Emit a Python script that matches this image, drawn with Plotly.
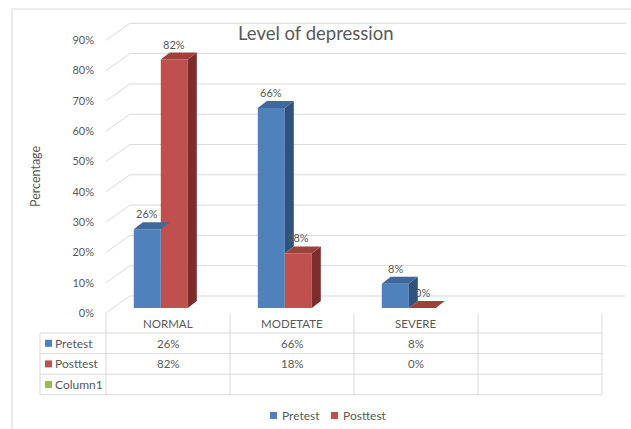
import plotly.graph_objects as go

# ---------------- data ----------------
categories = ["NORMAL", "MODETATE", "SEVERE"]
pretest = [26, 66, 8]
posttest = [82, 18, 0]
series_names = ["Pretest", "Posttest", "Column1"]
y_ticks = [0, 10, 20, 30, 40, 50, 60, 70, 80, 90]
y_tick_labels = ["0%", "10%", "20%", "30%", "40%", "50%", "60%", "70%", "80%", "90%"]
title_text = "Level of depression"
y_title = "Percentage"

# ---------------- style ----------------
FONT = "Lato"
TXT = "#595959"
GRID = "#D9D9D9"
BLUE, BLUE_TOP, BLUE_SIDE = "#4F81BD", "#41689C", "#30527F"
RED, RED_TOP, RED_SIDE = "#C0504D", "#A0403D", "#7D2E2C"
GREEN = "#9BBB59"

W, H = 631, 429
PL, PR, PT, PB = 106, 626, 20, 313          # plot area in pixels
PX_PER_CAT = 124.0
PX_PER_PCT = 3.03
X0 = -0.5
XMAX = X0 + (PR - PL) / PX_PER_CAT
YMAX = (PB - PT) / PX_PER_PCT
BAR_OFF = 5 / PX_PER_PCT                     # bar plane vs label plane
BACK_OFF = 17 / PX_PER_PCT                   # back wall vs label plane
BACK_DX = 24 / PX_PER_CAT
BW = 27 / PX_PER_CAT                          # bar width
DX = 9 / PX_PER_CAT                           # depth offset x
DY = 7 / PX_PER_PCT                           # depth offset y
BLUE_SHIFT = -0.167
RED_SHIFT = BLUE_SHIFT + BW


def px_x(px):
    return (px - PL) / (PR - PL)


def px_y(py):
    return (PB - py) / (PB - PT)


def cat_to_paper(xu):
    return (xu - X0) * PX_PER_CAT / (PR - PL)


fig = go.Figure()

idx = list(range(len(categories)))
xb = [i + BLUE_SHIFT for i in idx]
xr = [i + RED_SHIFT for i in idx]


def add_poly(xs, ys, color):
    fig.add_trace(go.Scatter(x=xs + [xs[0]], y=ys + [ys[0]], fill="toself", fillcolor=color,
                             mode="lines", line=dict(width=0, color=color), yaxis="y2",
                             showlegend=False, hoverinfo="skip"))


# Pretest / Posttest bars (front faces)
fig.add_trace(go.Bar(x=xb, y=pretest, width=BW, marker=dict(color=BLUE, line=dict(width=0)),
                     yaxis="y2", name=series_names[0], showlegend=False))
fig.add_trace(go.Bar(x=xr, y=posttest, width=BW, marker=dict(color=RED, line=dict(width=0)),
                     yaxis="y2", name=series_names[1], showlegend=False))

for c, v, rv in zip(xb, pretest, posttest):
    # side face visible only above the red neighbour
    if v > rv:
        r = c + BW / 2
        add_poly([r, r + DX, r + DX, r], [rv, rv + DY, v + DY, v], BLUE_SIDE)
    l, r = c - BW / 2, c + BW / 2
    add_poly([l, r, r + DX, l + DX], [v, v, v + DY, v + DY], BLUE_TOP)

for c, v in zip(xr, posttest):
    l, r = c - BW / 2, c + BW / 2
    if v > 0:
        add_poly([r, r + DX, r + DX, r], [0, DY, v + DY, v], RED_SIDE)
    add_poly([l, r, r + DX, l + DX], [v, v, v + DY, v + DY], RED_TOP)

shapes = []
# back wall gridlines and diagonals
for t in y_ticks:
    shapes.append(dict(type="line", xref="x", yref="y", x0=X0 + BACK_DX, x1=XMAX,
                       y0=t + BACK_OFF, y1=t + BACK_OFF, line=dict(color=GRID, width=1), layer="below"))
    shapes.append(dict(type="line", xref="x", yref="y", x0=X0, x1=X0 + BACK_DX,
                       y0=t, y1=t + BACK_OFF, line=dict(color=GRID, width=1), layer="below"))

# outer chart border
shapes.append(dict(type="rect", xref="paper", yref="paper", x0=px_x(12), x1=px_x(W + 10),
                   y0=px_y(9), y1=px_y(H + 10), line=dict(color=GRID, width=1)))

# data table
ROW_TOP, ROW_H = 333, 20.6
n_rows = 3
TBL_LEFT = 40
n_cols = len(categories) + 1
col_edges = [X0 + k for k in range(n_cols + 1)]
row_lines = [ROW_TOP + k * ROW_H for k in range(n_rows + 1)]
for yl in row_lines:
    shapes.append(dict(type="line", xref="paper", yref="paper", x0=px_x(TBL_LEFT), x1=cat_to_paper(col_edges[-1]),
                       y0=px_y(yl), y1=px_y(yl), line=dict(color=GRID, width=1)))
shapes.append(dict(type="line", xref="paper", yref="paper", x0=px_x(TBL_LEFT), x1=px_x(TBL_LEFT),
                   y0=px_y(ROW_TOP), y1=px_y(row_lines[-1]), line=dict(color=GRID, width=1)))
for ce in col_edges:
    shapes.append(dict(type="line", xref="paper", yref="paper", x0=cat_to_paper(ce), x1=cat_to_paper(ce),
                       y0=px_y(PB), y1=px_y(row_lines[-1]), line=dict(color=GRID, width=1)))

annotations = []
row_colors = [BLUE, RED, GREEN]
row_values = [pretest, posttest, [None] * len(categories)]
for k, (nm, col, vals) in enumerate(zip(series_names, row_colors, row_values)):
    yc = ROW_TOP + (k + 0.5) * ROW_H
    shapes.append(dict(type="rect", xref="paper", yref="paper", x0=px_x(45), x1=px_x(52),
                       y0=px_y(yc - 3.5), y1=px_y(yc + 3.5), line=dict(width=0), fillcolor=col))
    annotations.append(dict(xref="paper", yref="paper", x=px_x(53), y=px_y(yc), text=nm, showarrow=False,
                            xanchor="left", yanchor="middle", font=dict(family=FONT, size=12, color=TXT)))
    for i, v in enumerate(vals):
        if v is None:
            continue
        annotations.append(dict(xref="paper", yref="paper", x=cat_to_paper(i), y=px_y(yc), text=f"{v}%",
                                showarrow=False, xanchor="center", yanchor="middle",
                                font=dict(family=FONT, size=11.5, color=TXT)))
for i, c in enumerate(categories):
    annotations.append(dict(xref="paper", yref="paper", x=cat_to_paper(i), y=px_y(324), text=c,
                            showarrow=False, xanchor="center", yanchor="middle",
                            font=dict(family=FONT, size=11.5, color=TXT)))

# data labels
for xs, vals in ((xb, pretest), (xr, posttest)):
    for c, v in zip(xs, vals):
        annotations.append(dict(x=c, y=v, xref="x", yref="y2", text=f"{v}%", showarrow=False,
                                xanchor="center", yanchor="bottom", yshift=7,
                                font=dict(family=FONT, size=11, color=TXT)))

# title & axis title
annotations.append(dict(xref="paper", yref="paper", x=px_x(316), y=px_y(33), text=title_text, showarrow=False,
                        xanchor="center", yanchor="middle", font=dict(family=FONT, size=18.5, color=TXT)))
annotations.append(dict(xref="paper", yref="paper", x=px_x(36), y=px_y(176), text=y_title, showarrow=False,
                        textangle=-90, xanchor="center", yanchor="middle",
                        font=dict(family=FONT, size=12.5, color=TXT)))

# bottom legend
leg = [(series_names[0], BLUE, 270), (series_names[1], RED, 331)]
for nm, col, xpx in leg:
    shapes.append(dict(type="rect", xref="paper", yref="paper", x0=px_x(xpx), x1=px_x(xpx + 7),
                       y0=px_y(412), y1=px_y(419), line=dict(width=0), fillcolor=col))
    annotations.append(dict(xref="paper", yref="paper", x=px_x(xpx + 10), y=px_y(415), text=nm, showarrow=False,
                            xanchor="left", yanchor="middle", font=dict(family=FONT, size=12, color=TXT)))

fig.update_layout(
    width=W, height=H,
    margin=dict(l=PL, r=W - PR, t=PT, b=H - PB, pad=0),
    paper_bgcolor="white", plot_bgcolor="rgba(0,0,0,0)",
    showlegend=False, barmode="overlay",
    xaxis=dict(range=[X0, XMAX], showgrid=False, zeroline=False, showline=False,
               showticklabels=False, ticks="", fixedrange=True),
    yaxis=dict(range=[0, YMAX], tickmode="array", tickvals=y_ticks, ticktext=y_tick_labels,
               showgrid=False, zeroline=False, showline=False, ticks="", ticklabelstandoff=11,
               tickfont=dict(family=FONT, size=11, color=TXT), fixedrange=True),
    yaxis2=dict(range=[-BAR_OFF, YMAX - BAR_OFF], overlaying="y", visible=False, fixedrange=True),
    shapes=shapes, annotations=annotations,
)

fig.write_html("out.html", config={"displayModeBar": False, "staticPlot": True},
               post_script="document.body.style.margin='0px';document.body.style.overflow='hidden';")
